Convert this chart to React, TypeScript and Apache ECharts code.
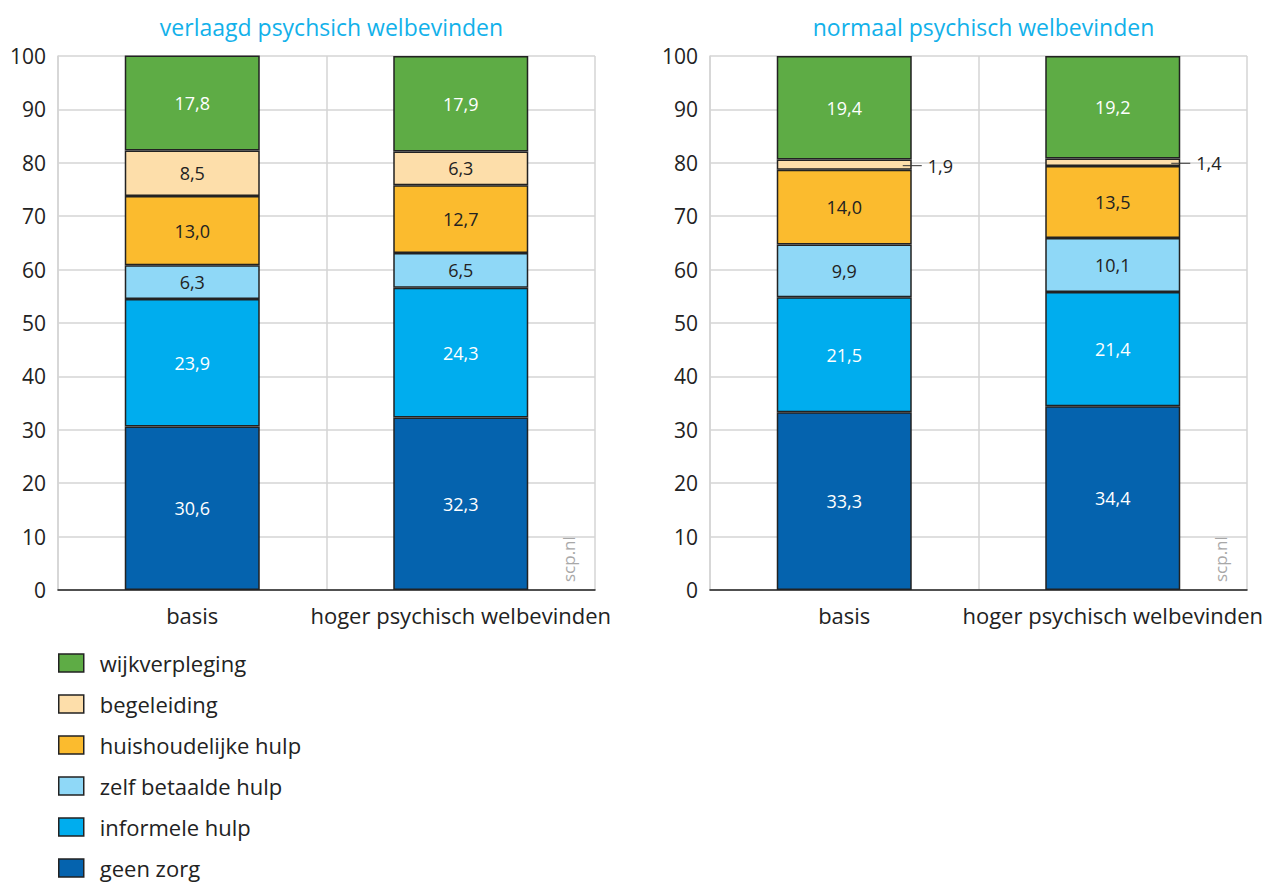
import React, { useEffect, useRef } from "react";
import * as echarts from "echarts";

// Categories per panel
const categories = ["basis", "hoger psychisch welbevinden"];
const panelTitles = ["verlaagd psychsich welbevinden", "normaal psychisch welbevinden"];

// Stack order, bottom to top
const seriesNames = [
  "geen zorg",
  "informele hulp",
  "zelf betaalde hulp",
  "huishoudelijke hulp",
  "begeleiding",
  "wijkverpleging",
];
const seriesColors = ["#0563ae", "#00adee", "#8fd8f7", "#fbbb2e", "#fddeaa", "#5eac45"];
const labelColors = ["#ffffff", "#ffffff", "#222222", "#222222", "#222222", "#ffffff"];

// Percentages per series: [basis, hoger psychisch welbevinden]
const verlaagd = {
  "geen zorg": [30.6, 32.3],
  "informele hulp": [23.9, 24.3],
  "zelf betaalde hulp": [6.3, 6.5],
  "huishoudelijke hulp": [13.0, 12.7],
  "begeleiding": [8.5, 6.3],
  "wijkverpleging": [17.8, 17.9],
};
const normaal = {
  "geen zorg": [33.3, 34.4],
  "informele hulp": [21.5, 21.4],
  "zelf betaalde hulp": [9.9, 10.1],
  "huishoudelijke hulp": [14.0, 13.5],
  "begeleiding": [1.9, 1.4],
  "wijkverpleging": [19.4, 19.2],
};

const yTicks = [0, 10, 20, 30, 40, 50, 60, 70, 80, 90, 100];

const FONT = "'Open Sans', 'Noto Sans', sans-serif";
const fmt = (v: number) => v.toFixed(1).replace(".", ",");

export default function App() {
  const ref = useRef<HTMLDivElement>(null);

  useEffect(() => {
    const chart = echarts.init(ref.current!, null, { renderer: "svg" });
    const panels = [verlaagd, normaal];
    const gridLefts = [58, 710];
    const gridWidth = 537;

    const grids = gridLefts.map((left) => ({
      left,
      top: 56,
      width: gridWidth,
      height: 534,
      containLabel: false,
    }));

    const xAxes = panels.map((_, i) => ({
      type: "category",
      gridIndex: i,
      data: categories,
      axisLine: { show: true, lineStyle: { color: "#222", width: 1.5 } },
      axisTick: { show: false },
      axisLabel: { color: "#222", fontSize: 22, fontFamily: FONT, margin: 14, interval: 0 },
      splitLine: { show: true, interval: 0, lineStyle: { color: "#d4d4d4", width: 1.5 } },
    }));

    const yAxes = panels.map((_, i) => ({
      type: "value",
      gridIndex: i,
      min: 0,
      max: 100,
      interval: 10,
      axisLine: { show: true, lineStyle: { color: "#d4d4d4", width: 1.5 } },
      axisTick: { show: false },
      axisLabel: {
        color: "#222",
        fontSize: 21,
        fontFamily: FONT,
        margin: 12,
        formatter: (v: number) => (yTicks.includes(v) ? String(v) : ""),
      },
      splitLine: { show: true, lineStyle: { color: "#d4d4d4", width: 1.5 } },
    }));

    const series: any[] = [];
    panels.forEach((panel, p) => {
      seriesNames.forEach((name, s) => {
        const values: number[] = (panel as any)[name];
        series.push({
          name,
          type: "bar",
          stack: "panel" + p,
          xAxisIndex: p,
          yAxisIndex: p,
          barWidth: 135,
          itemStyle: { color: seriesColors[s], borderColor: "#222", borderWidth: 1.5 },
          label: {
            show: true,
            position: "inside",
            color: labelColors[s],
            fontSize: 18,
            fontFamily: FONT,
            formatter: (d: any) => fmt(d.value),
          },
          data: values.map((v) =>
            v < 3
              ? {
                  value: v,
                  label: {
                    position: "right",
                    distance: 0,
                    offset: [-9, 1],
                    color: "#222",
                    formatter: (d: any) => "{l| }{v|" + fmt(d.value) + "}",
                    rich: {
                      l: { width: 19, height: 1, backgroundColor: "#333", fontSize: 1 },
                      v: { fontSize: 18, fontFamily: FONT, color: "#222", padding: [0, 0, 0, 6] },
                    },
                  },
                }
              : v
          ),
        });
      });
    });

    // One legend block per entry, listed top to bottom in reverse stack order
    const legendOrder = [...seriesNames].reverse();
    const legends = legendOrder.map((name, i) => ({
      orient: "vertical",
      left: 58,
      top: 652 + i * 41,
      padding: 0,
      icon: "rect",
      itemWidth: 25,
      itemHeight: 18,
      itemStyle: { borderColor: "#222", borderWidth: 1.5 },
      textStyle: {
        color: "#222",
        fontSize: 22,
        lineHeight: 20,
        fontFamily: FONT,
        padding: [0, 0, 0, 11],
      },
      data: [name],
    }));

    const option: any = {
      animation: false,
      textStyle: { fontFamily: FONT },
      grid: grids,
      xAxis: xAxes,
      yAxis: yAxes,
      series,
      title: panelTitles.map((t, i) => ({
        text: t,
        left: gridLefts[i] + gridWidth / 2,
        textAlign: "center",
        top: 10,
        textStyle: { color: "#12b1ea", fontSize: 23, fontWeight: "normal", fontFamily: FONT },
      })),
      legend: legends,
      graphic: gridLefts.map((left) => ({
        type: "text",
        x: left + gridWidth - 18,
        y: 582,
        rotation: Math.PI / 2,
        style: {
          text: "scp.nl",
          fill: "#a8a8a8",
          font: "17px 'Open Sans', sans-serif",
          textAlign: "left",
          textVerticalAlign: "bottom",
        },
      })),
    };
    chart.setOption(option);
    return () => chart.dispose();
  }, []);

  return (
    <div
      ref={ref}
      style={{ position: "absolute", left: 0, top: 0, width: 1269, height: 882, background: "#fff" }}
    />
  );
}
